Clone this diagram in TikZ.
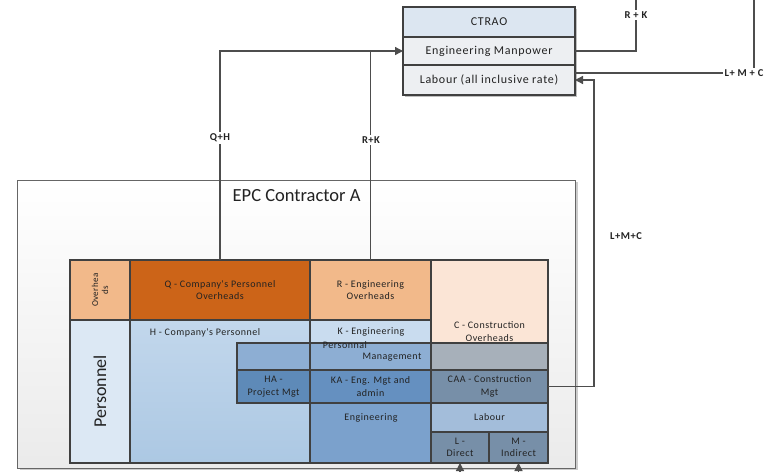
\documentclass[tikz,border=0pt]{standalone}
\usepackage{fontspec}
\setmainfont{Carlito}
\newfontfamily\gridfamily[LetterSpace=5]{Carlito}
\newfontfamily\boxfamily[LetterSpace=6]{Carlito}
\usetikzlibrary{arrows.meta,shadows,calc}

\definecolor{lineclr}{HTML}{4D4D4D}
\definecolor{cellline}{HTML}{404040}
\definecolor{hdrfill}{HTML}{DCE6F1}
\definecolor{rowfill}{HTML}{EDEFF2}
\definecolor{qdark}{HTML}{CC6418}
\definecolor{olight}{HTML}{F2B98A}
\definecolor{cpeach}{HTML}{FBE5D6}
\definecolor{pers}{HTML}{DCE8F4}
\definecolor{htop}{HTML}{C2D7EC}
\definecolor{hbot}{HTML}{ACC8E3}
\definecolor{kblue}{HTML}{C9DCEF}
\definecolor{bandblue}{HTML}{8DAED3}
\definecolor{bandgray}{HTML}{A7B0BA}
\definecolor{hablue}{HTML}{5E8AB8}
\definecolor{kablue}{HTML}{6590C0}
\definecolor{slate}{HTML}{778FA8}
\definecolor{engblue}{HTML}{7BA1CC}
\definecolor{labblue}{HTML}{A3BDDA}
\definecolor{txt}{HTML}{222222}

\newcommand\cellfont{\gridfamily\fontsize{10}{12.5}\selectfont}
\newcommand\boxfont{\boxfamily\fontsize{12}{14}\selectfont}
\newcommand\lblfont{\gridfamily\fontsize{10.5}{12}\selectfont\bfseries}

\tikzset{
  cell/.style={draw=cellline, line width=1.2pt, anchor=north west, inner sep=0pt,
    outer sep=0pt, font=\cellfont, text=txt, align=center},
  rowbox/.style={draw=cellline, line width=1.2pt, anchor=north west, inner sep=0pt,
    outer sep=0pt, minimum width=172pt, font=\boxfont, text=txt,
    drop shadow={shadow xshift=2pt, shadow yshift=-2pt, fill=black, opacity=0.25}},
  txtnode/.style={inner sep=0pt, font=\cellfont, text=txt, align=center},
  ln/.style={draw=lineclr, line width=1.3pt},
  conn/.style={ln, -{Triangle[length=8pt,width=8pt]}},
  lbl/.style={fill=white, inner sep=1.5pt, font=\lblfont, text=txt}
}

\begin{document}
\begin{tikzpicture}[x=1pt, y=-1pt]
  \fill[white] (0,0) rectangle (769,472);
  \useasboundingbox (0,0) rectangle (769,472);

  % contractor frame
  \node[draw=black!60, line width=1.2pt, anchor=north west, inner sep=0pt,
        minimum width=558pt, minimum height=288pt, top color=white, bottom color=black!8,
        drop shadow={shadow xshift=2pt, shadow yshift=-1pt, fill=black, opacity=0.2}]
        (epc) at (17,180) {};
  \node[inner sep=0pt, font=\fontsize{18.5}{21}\selectfont, text=txt, anchor=north]
        (epct) at ([yshift=-9pt]epc.north) {EPC Contractor A};

  % CTRAO block
  \node[rowbox, fill=hdrfill, minimum height=30pt] (ctr) at (403,7) {CTRAO};
  \node[rowbox, fill=rowfill, minimum height=28pt] (eng) at (403,37) {Engineering Manpower};
  \node[rowbox, fill=rowfill, minimum height=30pt] (lab) at (403,65) {Labour (all inclusive rate)};

  % overhead row
  \node[cell, fill=olight, minimum width=60pt, minimum height=60pt] (ovh) at (70,260) {};
  \node[cell, fill=qdark, minimum width=180pt, minimum height=60pt] (Q) at (130,260)
        {Q - Company's Personnel\\Overheads};
  \node[cell, fill=olight, minimum width=121pt, minimum height=60pt] (R) at (310,260)
        {R - Engineering\\Overheads};
  \node[cell, fill=cpeach, minimum width=117pt, minimum height=143pt] (C) at (431,260)
        {C - Construction\\Overheads};

  % personnel row
  \node[cell, fill=pers, minimum width=60pt, minimum height=143pt] (pers) at (70,320) {};
  \node[cell, top color=htop, bottom color=hbot,
        minimum width=180pt, minimum height=143pt] (H) at (130,320) {};
  \node[cell, fill=kblue, minimum width=121pt, minimum height=83pt] (K) at (310,320) {};

  % management band
  \node[cell, fill=bandblue, minimum width=73pt, minimum height=27pt] (b1) at (237,343) {};
  \node[cell, fill=bandblue, minimum width=121pt, minimum height=27pt] (b2) at (310,343) {};
  \node[cell, fill=bandgray, minimum width=117pt, minimum height=27pt] (b3) at (431,343) {};

  % management and admin row
  \node[cell, fill=hablue, minimum width=73pt, minimum height=33pt] (HA) at (237,370)
        {HA -\\Project Mgt};
  \node[cell, fill=kablue, minimum width=121pt, minimum height=33pt] (KA) at (310,370)
        {KA - Eng. Mgt and\\admin};
  \node[cell, fill=slate, minimum width=117pt, minimum height=33pt] (CAA) at (431,370)
        {CAA - Construction\\Mgt};

  % engineering and labour
  \node[cell, fill=engblue, minimum width=121pt, minimum height=60pt] (E) at (310,403) {};
  \node[cell, fill=labblue, minimum width=117pt, minimum height=29pt] (Lab) at (431,403) {Labour};
  \node[cell, fill=slate, minimum width=58pt, minimum height=31pt] (L) at (431,432) {L -\\Direct};
  \node[cell, fill=slate, minimum width=59pt, minimum height=31pt] (M) at (489,432) {M -\\Indirect};

  % texts placed inside the cells
  \node[txtnode, rotate=90, font=\gridfamily\fontsize{9}{10}\selectfont] (ovht) at (ovh.center) {Overhea\\ds};
  \node[txtnode, rotate=90, font=\fontsize{18}{20}\selectfont] (perst) at (pers.center) {Personnel};
  \node[txtnode] (Ht) at (205,333) {H - Company's Personnel};
  \node[txtnode] (Kt1) at (371,332) {K - Engineering};
  \node[txtnode] (Kt2) at (345,345) {Personnal};
  \node[txtnode] (Kt3) at (392,357) {Management};
  \node[txtnode] (Et) at (371,418) {Engineering};

  % connectors
  \coordinate (rkTop) at (636,0);
  \coordinate (lmcTop) at (754,0);
  \coordinate (y73) at (0,73);
  \coordinate (turn) at (594,0);
  \coordinate (bot) at (0,472);

  \draw[conn] (Q.north) |- (eng.west);
  \draw[ln] (R.north) -- (R.north |- eng.west);
  \draw[ln] (eng.east) -| (rkTop);
  \node[lbl] (lmc) at (744,73) {L+ M + C};
  \draw[ln] (lab.east |- y73) -- (lmc.west);
  \draw[ln] (lmc.north -| lmcTop) -- (lmcTop);
  \draw[conn] (CAA.east) -| (turn |- lab.east) -- (lab.east);
  \draw[conn] (L.south |- bot) -- (L.south);
  \draw[conn] (M.south |- bot) -- (M.south);

  % connector labels
  \node[lbl] (qh) at (220,138) {Q+H};
  \node[lbl] (rk) at (371,140) {R+K};
  \node[lbl] (rkr) at (636,15) {R + K};
  \node[lbl, fill=none] (lmc2) at (626,236) {L+M+C};
\end{tikzpicture}
\end{document}
